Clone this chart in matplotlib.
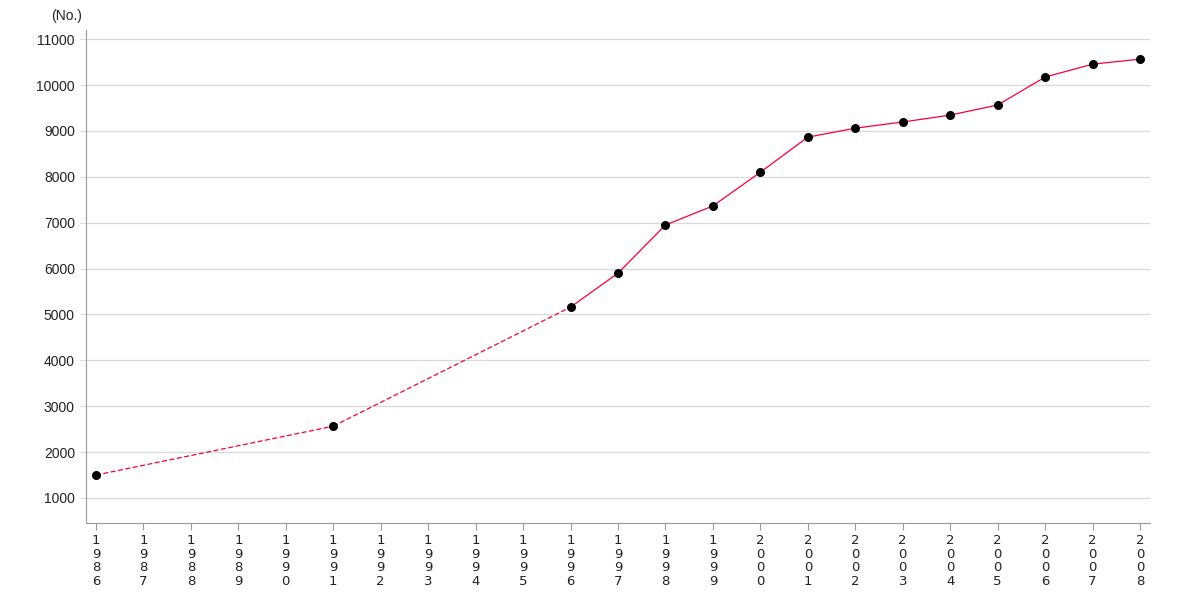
import matplotlib
matplotlib.use('Agg')
import matplotlib.pyplot as plt

# data
years = [1986, 1991, 1996, 1997, 1998, 1999, 2000, 2001, 2002,
         2003, 2004, 2005, 2006, 2007, 2008]
counts = [1500, 2565, 5160, 5900, 6950, 7365, 8100, 8865, 9060,
          9195, 9345, 9565, 10175, 10455, 10565]
all_years = list(range(1986, 2009))
y_ticks = [1000, 2000, 3000, 4000, 5000, 6000, 7000, 8000, 9000, 10000, 11000]

line_col = '#f5003d'

fig = plt.figure(figsize=(11.8, 6), dpi=100)
ax = fig.add_axes([86 / 1180, 77 / 600, 1064 / 1180, 493 / 600])

# dashed where years are missing, solid for consecutive years
for i in range(len(years) - 1):
    gap = years[i + 1] - years[i] > 1
    ax.plot(years[i:i + 2], counts[i:i + 2], color=line_col, lw=0.9,
            ls=(0, (4, 2)) if gap else '-', zorder=2)
ax.scatter(years, counts, s=30, color='black', zorder=3)

ax.set_xlim(1985.79, 2008.21)
ax.set_ylim(455, 11200)
ax.set_yticks(y_ticks)
ax.set_yticklabels([str(v) for v in y_ticks], fontsize=10,
                   family='Liberation Sans', color='#222222')
ax.set_xticks(all_years)
ax.set_xticklabels(['\n'.join(str(y)) for y in all_years], fontsize=9.5,
                   color='#222222', linespacing=1.05)

ax.grid(axis='y', color='#d9d9d9', lw=0.9)
ax.set_axisbelow(True)
for side in ['top', 'right']:
    ax.spines[side].set_visible(False)
ax.spines['left'].set_color('#999999')
ax.spines['bottom'].set_color('#999999')
ax.tick_params(axis='x', length=5, color='#999999', pad=3)
ax.tick_params(axis='y', length=4, color='#d9d9d9', pad=4)

fig.text(67 / 1180, 1 - 16 / 600, '(No.)', ha='center', va='center',
         fontsize=10, family='Liberation Sans', color='#222222')

fig.savefig('out.png', dpi=100)
